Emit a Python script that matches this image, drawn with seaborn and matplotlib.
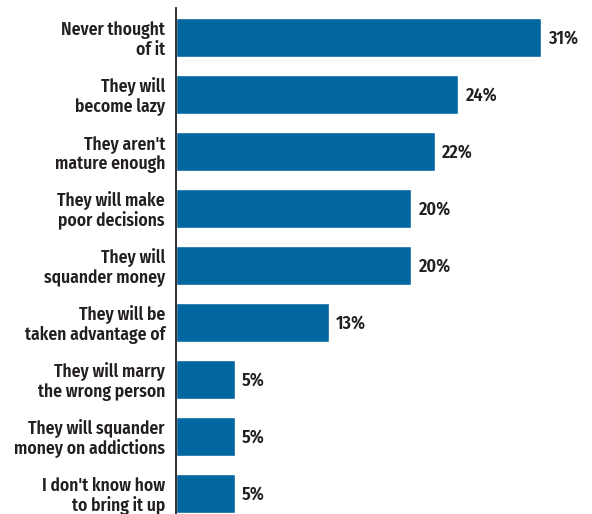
import matplotlib
matplotlib.use("Agg")
import matplotlib.pyplot as plt
import seaborn as sns
import pandas as pd

categories = [
    "Never thought\nof it",
    "They will\nbecome lazy",
    "They aren't\nmature enough",
    "They will make\npoor decisions",
    "They will\nsquander money",
    "They will be\ntaken advantage of",
    "They will marry\nthe wrong person",
    "They will squander\nmoney on addictions",
    "I don't know how\nto bring it up",
]
values = [31, 24, 22, 20, 20, 13, 5, 5, 5]

df = pd.DataFrame({"reason": categories, "pct": values})

sns.set_theme(style="white")
plt.rcParams["font.family"] = ["Fira Sans Condensed", "DejaVu Sans"]

bar_color = "#0266a0"
text_color = "#231f20"

fig = plt.figure(figsize=(5.92, 5.14), dpi=100)
ax = fig.add_axes([176 / 592, 0.0, 416 / 592, 1 - 8 / 514])

sns.barplot(data=df, x="pct", y="reason", orient="h", color=bar_color,
            width=0.684, saturation=1, ax=ax)

ax.set_xlim(0, 416 / 11.77)
ax.set_ylim(8.36, -0.518)
ax.set_xlabel("")
ax.set_ylabel("")
ax.set_xticks([])
ax.tick_params(axis="y", length=0, pad=8)
for lab in ax.get_yticklabels():
    lab.set_fontweight(600)
    lab.set_fontsize(12.6)
    lab.set_color(text_color)
    lab.set_linespacing(1.08)

for i, v in enumerate(values):
    ax.text(v + 0.6, i + 0.02, f"{v}%", va="center", ha="left", fontsize=13,
            fontweight=600, color=text_color)

for s in ["top", "right", "bottom"]:
    ax.spines[s].set_visible(False)
ax.spines["left"].set_color(text_color)
ax.spines["left"].set_linewidth(1.3)

fig.savefig("out.png", dpi=100)
